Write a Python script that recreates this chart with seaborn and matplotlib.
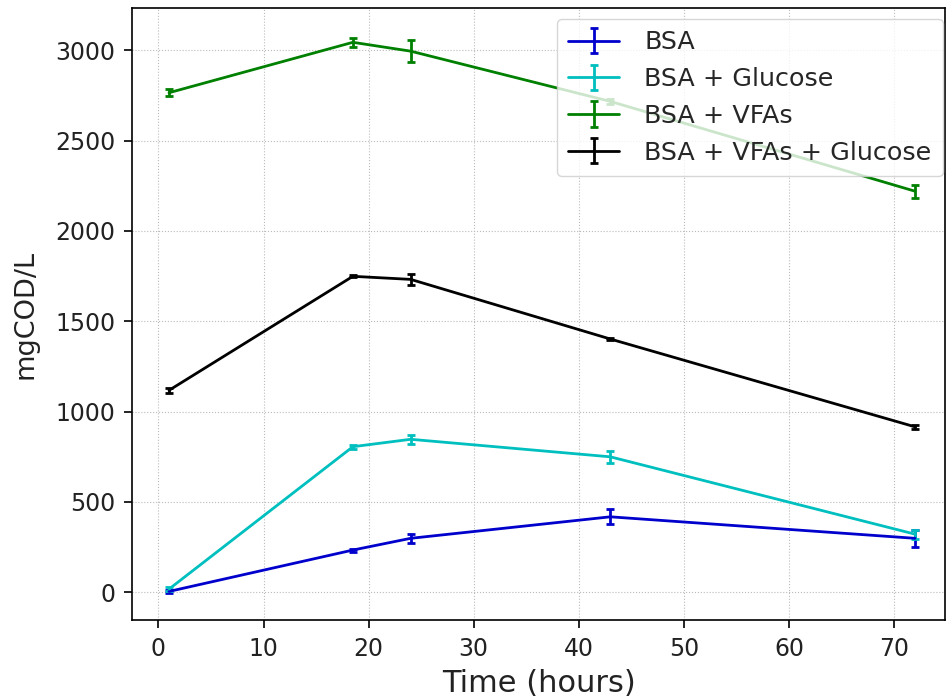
import matplotlib
matplotlib.use("Agg")
import matplotlib.pyplot as plt
import seaborn as sns
import numpy as np

time_h = [1, 18.5, 24, 43, 72]
series_names = ["BSA", "BSA + Glucose", "BSA + VFAs", "BSA + VFAs + Glucose"]
bsa = [5, 234, 299, 418, 299]
bsa_err = [8, 8, 25, 42, 48]
bsa_glu = [18, 806, 847, 750, 322]
bsa_glu_err = [10, 10, 25, 32, 25]
bsa_vfa = [2765, 3044, 2995, 2717, 2220]
bsa_vfa_err = [20, 24, 62, 15, 37]
bsa_vfa_glu = [1118, 1749, 1732, 1402, 916]
bsa_vfa_glu_err = [15, 5, 30, 8, 10]
colors = ["mediumblue", "c", "g", "k"]

sns.set_style("ticks")
plt.rcParams['font.family'] = ['DejaVu Sans']

fig = plt.figure(figsize=(9.47, 7.0), dpi=100)
ax = fig.add_axes([0.1394, 0.1143, 0.859, 0.8743])

values = [bsa, bsa_glu, bsa_vfa, bsa_vfa_glu]
errs = [bsa_err, bsa_glu_err, bsa_vfa_err, bsa_vfa_glu_err]
for name, v, e, c in zip(series_names, values, errs, colors):
    ax.errorbar(time_h, v, yerr=e, color=c, lw=2, capsize=3, capthick=2,
                elinewidth=2, label=name)

ax.set_xlim(-2.52, 74.9)
ax.set_ylim(-153, 3234)
ax.set_xticks(np.arange(0, 71, 10))
ax.set_yticks(np.arange(0, 3001, 500))
ax.grid(True, linestyle=':', color='#bbbbbb', linewidth=0.8)
ax.tick_params(labelsize=17, length=6, width=1.2, pad=6, color='black',
               labelcolor='#222222')
for s in ax.spines.values():
    s.set_color('black')
    s.set_linewidth(1.2)
ax.set_xlabel("Time (hours)", fontsize=22, color='#222222', labelpad=6)
ax.set_ylabel("mgCOD/L", fontsize=19.5, color='#222222', labelpad=12)
ax.legend(loc='upper right', bbox_to_anchor=(0.997, 0.982), fontsize=18.3,
          framealpha=0.8, handlelength=2.0, borderaxespad=0.0,
          labelspacing=0.5, handletextpad=1.0, borderpad=0.45)

fig.savefig("out.png", dpi=100)
